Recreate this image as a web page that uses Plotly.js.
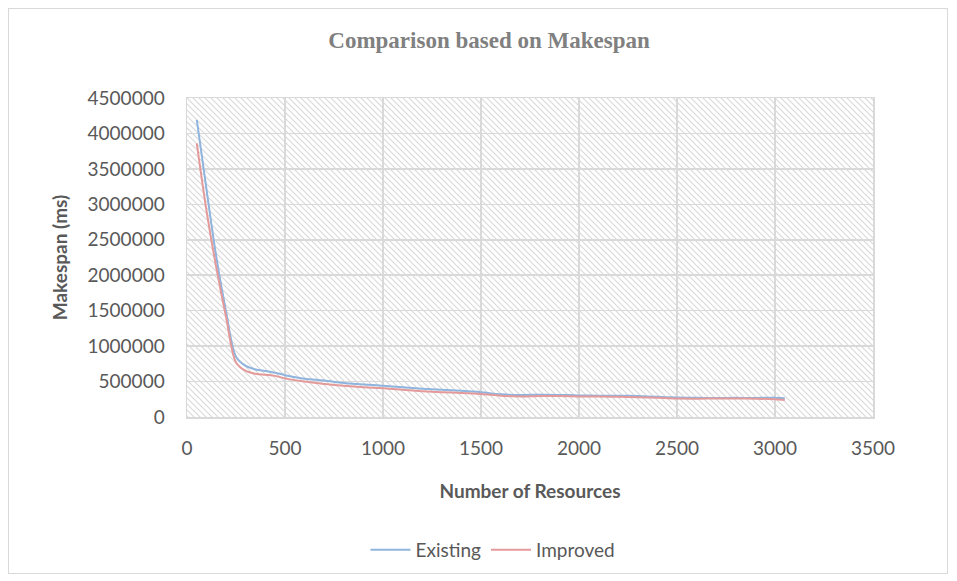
<!DOCTYPE html>
<html>
<head>
<meta charset="utf-8">
<script src="https://cdn.plot.ly/plotly-3.0.1.min.js"></script>
<style>
  html, body { margin: 0; padding: 0; background: #ffffff; }
  #frame { position: absolute; left: 8px; top: 8px; width: 940px; height: 566px; border: 1px solid #d9d9d9; box-sizing: border-box; }
  #chart { position: absolute; left: 0; top: 0; width: 957px; height: 581px; }
</style>
</head>
<body>
<div id="frame"></div>
<div id="chart"></div>
<script>
// ---- data ----
const resources = [50, 100, 150, 200, 250, 300, 350, 400, 450, 500, 600, 700, 800, 900, 1000,
                   1100, 1200, 1300, 1400, 1500, 1600, 1700, 1800, 1900, 2000, 2100, 2200,
                   2300, 2400, 2500, 2600, 2700, 2800, 2900, 3000, 3050];
const existing = [4190000, 3200000, 2250000, 1480000, 850000, 720000, 670000, 650000, 625000, 590000,
                  540000, 515000, 480000, 460000, 440000, 420000, 400000, 385000, 370000, 350000,
                  320000, 310000, 315000, 312000, 305000, 300000, 300000, 295000, 285000, 275000,
                  270000, 268000, 270000, 268000, 272000, 265000];
const improved = [3860000, 2900000, 2100000, 1400000, 770000, 650000, 610000, 595000, 580000, 545000,
                  500000, 465000, 440000, 420000, 405000, 385000, 365000, 350000, 340000, 325000,
                  300000, 290000, 295000, 295000, 290000, 288000, 285000, 280000, 270000, 260000,
                  258000, 262000, 262000, 258000, 250000, 240000];
const seriesNames = ["Existing", "Improved"];
const chartTitle = "Comparison based on Makespan";
const xTitle = "Number of Resources";
const yTitle = "Makespan (ms)";

// ---- hatch background for the plot area ----
const W = 686, H = 319;
const svg = `<svg xmlns="http://www.w3.org/2000/svg" width="${W}" height="${H}" viewBox="0 0 ${W} ${H}">` +
  `<defs><pattern id="p" patternUnits="userSpaceOnUse" width="6" height="6">` +
  `<path d="M0,0 L6,6 M-1,5 L1,7 M5,-1 L7,1" stroke="#dadada" stroke-width="1.2" fill="none"/>` +
  `</pattern></defs><rect width="${W}" height="${H}" fill="#ffffff"/><rect width="${W}" height="${H}" fill="url(#p)"/></svg>`;
const hatch = "data:image/svg+xml;base64," + btoa(svg);

const tickFont = { family: "Lato, 'Open Sans', sans-serif", size: 19, color: "#595959" };
const axTitleFont = { family: "Lato, 'Open Sans', sans-serif", size: 19, color: "#595959", weight: "bold" };

const traces = [
  { x: resources, y: existing, name: seriesNames[0], type: "scatter", mode: "lines",
    line: { color: "#8fb4de", width: 2, shape: "spline", smoothing: 0.9 } },
  { x: resources, y: improved, name: seriesNames[1], type: "scatter", mode: "lines",
    line: { color: "#e49a9a", width: 2, shape: "spline", smoothing: 0.9 } }
];

const layout = {
  width: 957, height: 581,
  margin: { l: 187, r: 84, t: 98, b: 164 },
  paper_bgcolor: "rgba(0,0,0,0)",
  plot_bgcolor: "rgba(0,0,0,0)",
  title: { text: "<b>" + chartTitle + "</b>", x: 0.511, xanchor: "center", y: 0.931, yanchor: "middle",
           font: { family: "'Liberation Serif', serif", size: 23, color: "#808080" } },
  xaxis: {
    range: [0, 3500], dtick: 500, tick0: 0,
    showgrid: true, gridcolor: "#d9d9d9", gridwidth: 1.5,
    zeroline: false, showline: true, mirror: true, linecolor: "#d9d9d9", linewidth: 1.5,
    ticks: "outside", ticklen: 14, tickcolor: "rgba(0,0,0,0)",
    tickfont: tickFont,
    title: { text: xTitle, font: axTitleFont, standoff: 26 }
  },
  yaxis: {
    range: [0, 4500000], dtick: 500000, tick0: 0, tickformat: "d",
    showgrid: true, gridcolor: "#d9d9d9", gridwidth: 1.5,
    zeroline: false, showline: true, mirror: true, linecolor: "#d9d9d9", linewidth: 1.5,
    ticks: "outside", ticklen: 17, tickcolor: "rgba(0,0,0,0)",
    tickfont: tickFont,
    title: { text: yTitle, font: axTitleFont, standoff: 15 }
  },
  legend: { orientation: "h", x: 0.446, xanchor: "center", y: -0.417, yanchor: "middle",
            font: { family: "Lato, 'Open Sans', sans-serif", size: 19, color: "#595959" },
            itemwidth: 40, tracegroupgap: 0 },
  images: [{ source: hatch, xref: "paper", yref: "paper", x: 0, y: 1, sizex: 1, sizey: 1,
             xanchor: "left", yanchor: "top", sizing: "stretch", layer: "below" }],
  showlegend: true
};

Plotly.newPlot("chart", traces, layout, { staticPlot: true, displayModeBar: false });
</script>
</body>
</html>
